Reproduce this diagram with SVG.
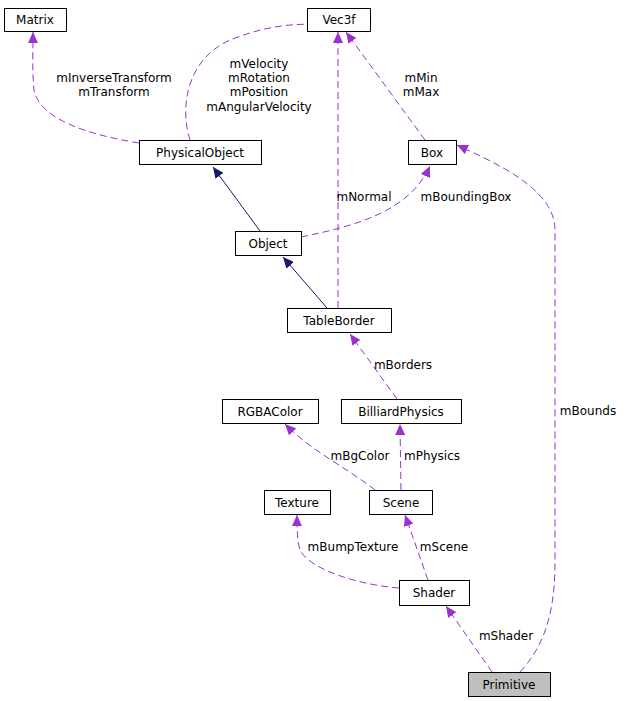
<svg xmlns="http://www.w3.org/2000/svg" width="625" height="701" viewBox="0 0 625 701">
<style>
text{font-family:"DejaVu Sans",sans-serif;font-size:12px;fill:#000;text-anchor:middle}
.n rect{fill:#fff;stroke:#000;stroke-width:1}
.d{fill:none;stroke:#9a32cd;stroke-dasharray:7,4}
.s{fill:none;stroke:#191970}
</style>
<defs>
<marker id="ap" markerWidth="12" markerHeight="10" refX="11" refY="5" orient="auto" markerUnits="userSpaceOnUse"><path d="M0,0 L11,5 L0,10 z" fill="#9a32cd"/></marker>
<marker id="an" markerWidth="12" markerHeight="10" refX="11" refY="5" orient="auto" markerUnits="userSpaceOnUse"><path d="M0,0 L11,5 L0,10 z" fill="#191970"/></marker>
</defs>
<rect width="625" height="701" fill="#fff"/>
<g id="connectors">
<path class="d" marker-end="url(#ap)" d="M139,143 C90,135 40,120 34,90 C32,70 33,50 33,32"/>
<text x="114" y="82">mInverseTransform</text><text x="114" y="96">mTransform</text>
<path class="d" marker-end="url(#ap)" d="M190,140 C180,110 185,60 230,40 C260,28 290,22 325,25"/>
<text x="259" y="68">mVelocity</text><text x="259" y="82">mRotation</text><text x="259" y="96">mPosition</text><text x="259" y="111">mAngularVelocity</text>
<path class="s" marker-end="url(#an)" d="M260,231 L213,167"/>
<path class="d" marker-end="url(#ap)" d="M301,237 C360,225 410,210 430,166"/>
<text x="466" y="201">mBoundingBox</text>
<path class="s" marker-end="url(#an)" d="M327,308 L283,257"/>
<path class="d" marker-end="url(#ap)" d="M338,308 L338,32"/>
<text x="364" y="201">mNormal</text>
<path class="d" marker-end="url(#ap)" d="M425,140 L346,32"/>
<text x="421" y="82">mMin</text><text x="421" y="96">mMax</text>
<path class="d" marker-end="url(#ap)" d="M397,399 L350,334"/>
<text x="403" y="369">mBorders</text>
<path class="d" marker-end="url(#ap)" d="M375,490 C350,470 310,450 285,424"/>
<text x="360" y="460">mBgColor</text>
<path class="d" marker-end="url(#ap)" d="M401,490 L400,424"/>
<text x="432" y="460">mPhysics</text>
<path class="d" marker-end="url(#ap)" d="M399,588 C360,585 310,570 300,550 C297,540 297,528 297,515"/>
<text x="353" y="551">mBumpTexture</text>
<path class="d" marker-end="url(#ap)" d="M428,580 L405,515"/>
<text x="444" y="551">mScene</text>
<path class="d" marker-end="url(#ap)" d="M492,672 L446,606"/>
<text x="506" y="640">mShader</text>
<path class="d" marker-end="url(#ap)" d="M520,672 C550,640 555,600 555,560 L555,230 C555,190 500,165 457,145"/>
<text x="588" y="415">mBounds</text>
</g>
<g id="Matrix" class="n"><rect x="4.5" y="8.5" width="62" height="23"/><text x="35" y="24">Matrix</text></g>
<g id="Vec3f" class="n"><rect x="307.5" y="8.5" width="63" height="23"/><text x="339" y="24">Vec3f</text></g>
<g id="PhysicalObject" class="n"><rect x="139.5" y="140.5" width="122" height="24"/><text x="200" y="157">PhysicalObject</text></g>
<g id="Box" class="n"><rect x="408.5" y="140.5" width="48" height="24"/><text x="432" y="157">Box</text></g>
<g id="Object" class="n"><rect x="235.5" y="231.5" width="66" height="24"/><text x="268" y="248">Object</text></g>
<g id="TableBorder" class="n"><rect x="287.5" y="308.5" width="104" height="24"/><text x="339" y="325">TableBorder</text></g>
<g id="RGBAColor" class="n"><rect x="222.5" y="399.5" width="96" height="24"/><text x="270" y="416">RGBAColor</text></g>
<g id="BilliardPhysics" class="n"><rect x="341.5" y="399.5" width="120" height="24"/><text x="401" y="416">BilliardPhysics</text></g>
<g id="Texture" class="n"><rect x="264.5" y="490.5" width="66" height="24"/><text x="297" y="507">Texture</text></g>
<g id="Scene" class="n"><rect x="369.5" y="490.5" width="63" height="24"/><text x="401" y="507">Scene</text></g>
<g id="Shader" class="n"><rect x="399.5" y="580.5" width="70" height="25"/><text x="434" y="597">Shader</text></g>
<g id="Primitive" class="n"><rect x="468.5" y="672.5" width="82" height="24" style="fill:#bfbfbf"/><text x="509" y="689">Primitive</text></g>
</svg>
